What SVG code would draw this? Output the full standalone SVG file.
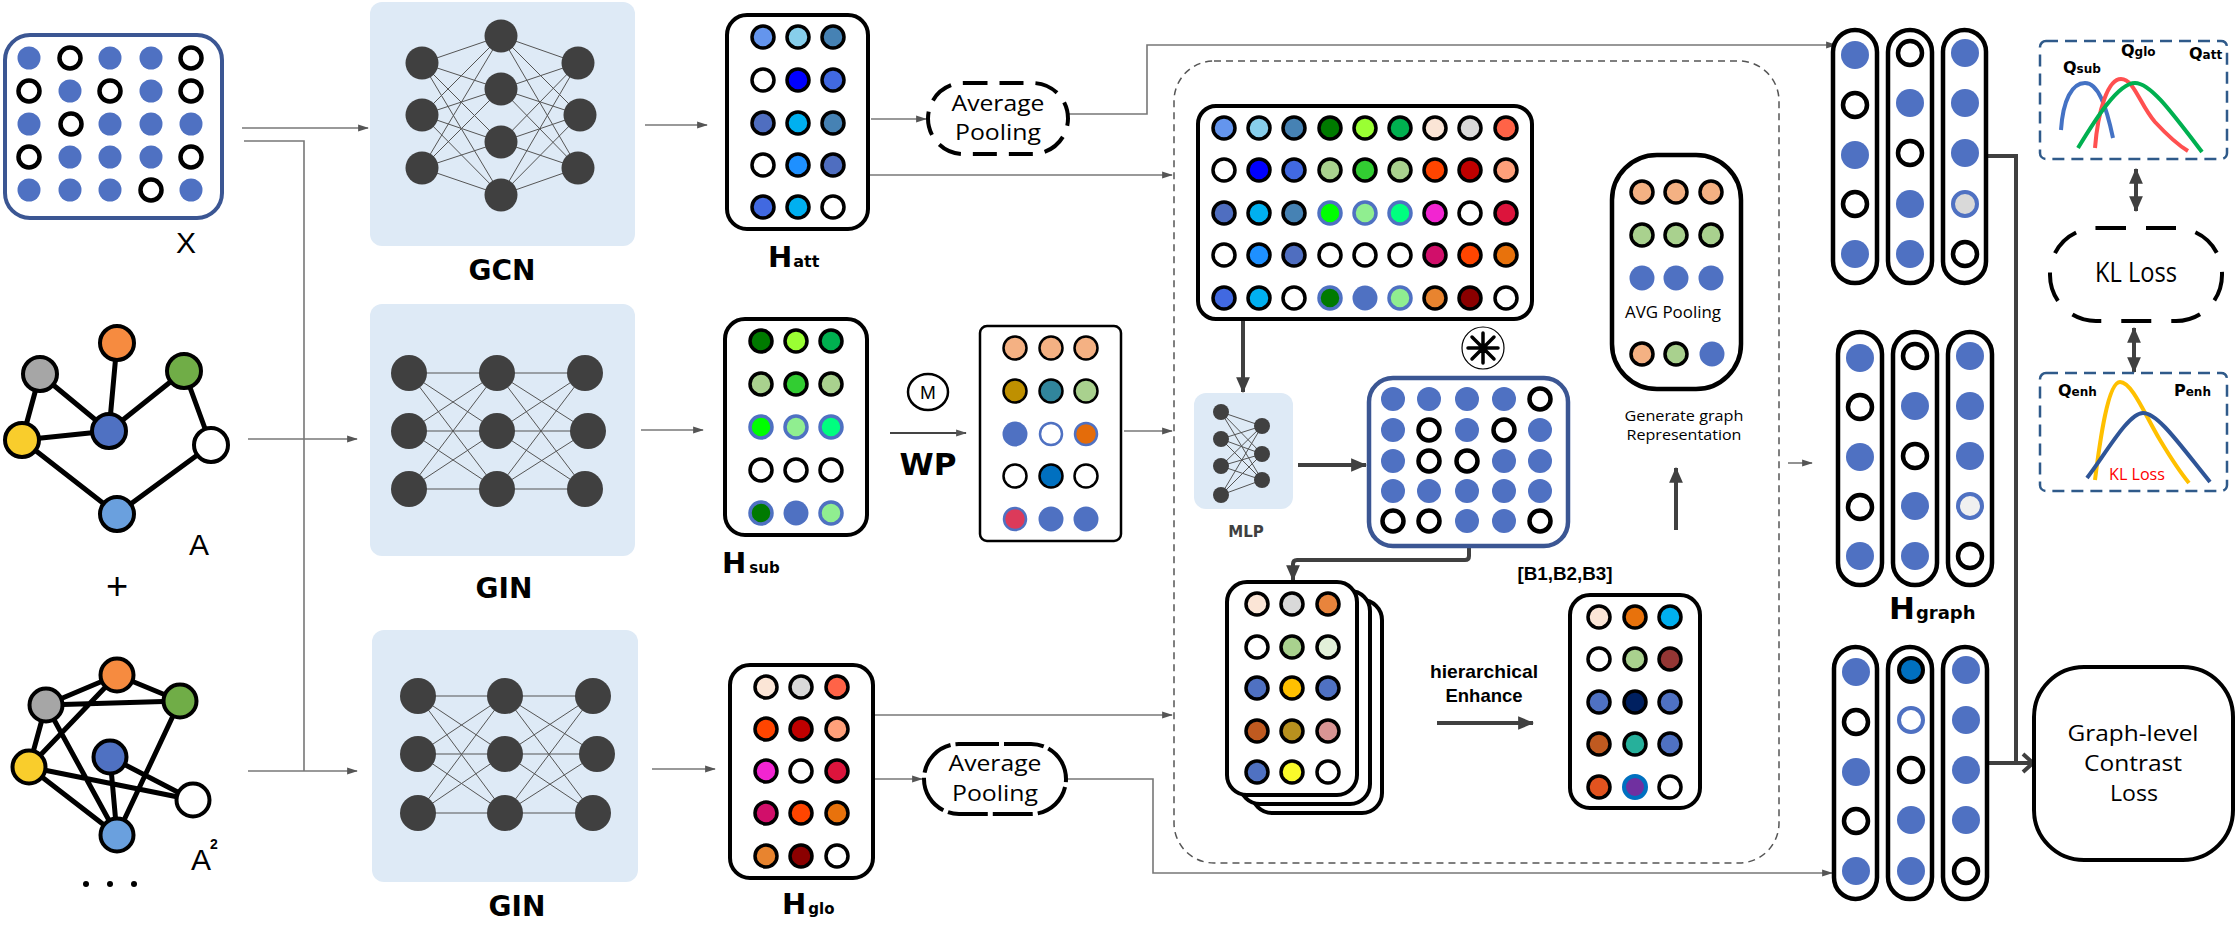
<svg xmlns="http://www.w3.org/2000/svg" width="2235" height="946" viewBox="0 0 2235 946">
<defs>
<marker id="ah" viewBox="0 0 12 10" refX="11" refY="5" markerWidth="12" markerHeight="9" markerUnits="userSpaceOnUse" orient="auto"><path d="M0,1 L12,5 L0,9 z" fill="#555"/></marker>
<marker id="ahk" viewBox="0 0 14 14" refX="13" refY="7" markerWidth="16" markerHeight="16" markerUnits="userSpaceOnUse" orient="auto-start-reverse"><path d="M0,1 L14,7 L0,13 z" fill="#404040"/></marker>
<marker id="chev" viewBox="0 0 14 22" refX="12" refY="11" markerWidth="14" markerHeight="22" markerUnits="userSpaceOnUse" orient="auto"><path d="M2,2 L12,11 L2,20" fill="none" stroke="#404040" stroke-width="4"/></marker>
<style>
.bf{fill:#4F71C2}
.rg{fill:#fff;stroke:#000;stroke-width:4.5}
.k{stroke:#000;stroke-width:3.5}
.kb{stroke:#4F71C2;stroke-width:3.5}
.box{fill:#fff;stroke:#000;stroke-width:4}
.thin{fill:none;stroke:#777;stroke-width:1.6}
.thick{fill:none;stroke:#404040;stroke-width:4}
.nnbox{fill:#DEEAF6}
.nn{fill:#404040}
.nl{fill:none;stroke:#555;stroke-width:1}
.ge{stroke:#000;stroke-width:5}
.gn{stroke:#000;stroke-width:4}
.lbl{font-family:"DejaVu Sans",Verdana,sans-serif;font-weight:bold;fill:#000}
.t{font-family:"Open Sans","Noto Sans",sans-serif;fill:#000}
.ts{font-family:"Liberation Sans",Arial,sans-serif;fill:#000}
.cb{font-family:"Liberation Sans",Arial,sans-serif;font-weight:bold;fill:#000}
.pill{fill:#fff;stroke:#000;stroke-width:4.5}
</style>
</defs>

<!-- Connectors -->
<g id="connectors">
<path class="thin" d="M242 128H368" marker-end="url(#ah)"/>
<path class="thin" d="M244 141H304V771"/>
<path class="thin" d="M248 439H357" marker-end="url(#ah)"/>
<path class="thin" d="M248 771H357" marker-end="url(#ah)"/>
<path class="thin" d="M645 125H707" marker-end="url(#ah)"/>
<path class="thin" d="M641 430H703" marker-end="url(#ah)"/>
<path class="thin" d="M652 769H715" marker-end="url(#ah)"/>
<path class="thin" d="M871 119H926" marker-end="url(#ah)"/>
<path class="thin" d="M1068 114H1147V45H1836" marker-end="url(#ah)"/>
<path class="thin" d="M868 175H1172" marker-end="url(#ah)"/>
<path class="thin" d="M890 433H966" marker-end="url(#ah)" style="stroke:#444;stroke-width:2.2"/>
<path class="thin" d="M1124 431H1172" marker-end="url(#ah)"/>
<path class="thin" d="M873 715H1172" marker-end="url(#ah)"/>
<path class="thin" d="M874 779H922" marker-end="url(#ah)"/>
<path class="thin" d="M1066 779H1153V873H1832" marker-end="url(#ah)"/>
<path class="thin" d="M1788 463H1812" marker-end="url(#ah)"/>
<path class="thick" d="M1243 321V392" marker-end="url(#ahk)"/>
<path class="thick" d="M1298 465H1366" marker-end="url(#ahk)"/>
<path class="thick" d="M1469 548V556Q1469 560 1465 560H1297Q1293 560 1293 564V580" marker-end="url(#ahk)"/>
<path class="thick" d="M1437 723H1533" marker-end="url(#ahk)"/>
<path class="thick" d="M1676 530V468" marker-end="url(#ahk)"/>
<path class="thick" d="M1986 156H2016V763"/>
<path class="thick" d="M1989 763H2033" marker-end="url(#chev)"/>
<path class="thick" d="M2136 169V211" marker-start="url(#ahk)" marker-end="url(#ahk)"/>
<path class="thick" d="M2134 328V372" marker-start="url(#ahk)" marker-end="url(#ahk)"/>
</g>

<!-- X matrix -->
<g id="x-matrix">
<rect x="5" y="35" width="217" height="183" rx="25" fill="#fff" stroke="#3B5693" stroke-width="4"/>
<circle class="bf" cx="29" cy="58" r="11.5"/><circle class="rg" cx="70" cy="58" r="10.5"/><circle class="bf" cx="110" cy="58" r="11.5"/><circle class="bf" cx="151" cy="58" r="11.5"/><circle class="rg" cx="191" cy="58" r="10.5"/>
<circle class="rg" cx="29" cy="91" r="10.5"/><circle class="bf" cx="70" cy="91" r="11.5"/><circle class="rg" cx="110" cy="91" r="10.5"/><circle class="bf" cx="151" cy="91" r="11.5"/><circle class="rg" cx="191" cy="91" r="10.5"/>
<circle class="bf" cx="29" cy="124" r="11.5"/><circle class="rg" cx="71" cy="124" r="10.5"/><circle class="bf" cx="110" cy="124" r="11.5"/><circle class="bf" cx="151" cy="124" r="11.5"/><circle class="bf" cx="191" cy="124" r="11.5"/>
<circle class="rg" cx="29" cy="157" r="10.5"/><circle class="bf" cx="70" cy="157" r="11.5"/><circle class="bf" cx="110" cy="157" r="11.5"/><circle class="bf" cx="151" cy="157" r="11.5"/><circle class="rg" cx="191" cy="157" r="10.5"/>
<circle class="bf" cx="29" cy="190" r="11.5"/><circle class="bf" cx="70" cy="190" r="11.5"/><circle class="bf" cx="110" cy="190" r="11.5"/><circle class="rg" cx="151" cy="190" r="10.5"/><circle class="bf" cx="191" cy="190" r="11.5"/>
<text class="ts" x="186" y="253" font-size="30" text-anchor="middle">X</text>
</g>

<!-- Graph A -->
<g id="graph-a">
<path class="ge" d="M40 374L22 440M40 374L109 431M117 343L109 431M184 371L109 431M184 371L211 445M22 440L109 431M22 440L117 514M211 445L117 514"/>
<circle class="gn" cx="40" cy="374" r="17" fill="#A6A6A6"/>
<circle class="gn" cx="117" cy="343" r="17" fill="#F68B40"/>
<circle class="gn" cx="184" cy="371" r="17" fill="#70AD47"/>
<circle class="gn" cx="22" cy="440" r="17" fill="#F9CD2C"/>
<circle class="gn" cx="109" cy="431" r="17" fill="#4F71C2"/>
<circle class="gn" cx="211" cy="445" r="17" fill="#fff"/>
<circle class="gn" cx="117" cy="514" r="17" fill="#6AA0DE"/>
<text class="ts" x="199" y="555" font-size="30" text-anchor="middle">A</text>
<text class="ts" x="117" y="599" font-size="38" text-anchor="middle">+</text>
</g>

<!-- Graph A2 -->
<g id="graph-a2">
<path class="ge" d="M46 705L117 675M117 675L180 701M46 705L180 701M117 675L29 767M46 705L29 767M46 705L117 835M29 767L193 800M29 767L117 835M110 757L117 835M110 757L193 800M180 701L117 835"/>
<circle class="gn" cx="117" cy="675" r="16.5" fill="#F68B40"/>
<circle class="gn" cx="46" cy="705" r="16.5" fill="#A6A6A6"/>
<circle class="gn" cx="180" cy="701" r="16.5" fill="#70AD47"/>
<circle class="gn" cx="110" cy="757" r="16.5" fill="#4F71C2"/>
<circle class="gn" cx="29" cy="767" r="16.5" fill="#F9CD2C"/>
<circle class="gn" cx="193" cy="800" r="16.5" fill="#fff"/>
<circle class="gn" cx="117" cy="835" r="16.5" fill="#6AA0DE"/>
<text class="ts" x="201" y="870" font-size="30" text-anchor="middle">A</text>
<text class="cb" x="214" y="849" font-size="14" text-anchor="middle">2</text>
<circle cx="86" cy="884" r="3" fill="#000"/><circle cx="110" cy="884" r="3" fill="#000"/><circle cx="134" cy="884" r="3" fill="#000"/>
</g>

<!-- GCN -->
<g id="gcn">
<rect class="nnbox" x="370" y="2" width="265" height="244" rx="12"/>
<path class="nl" d="M422 63L501 36M422 63L501 89M422 63L501 142M422 63L501 195M422 115L501 36M422 115L501 89M422 115L501 142M422 115L501 195M422 168L501 36M422 168L501 89M422 168L501 142M422 168L501 195M501 36L578 63M501 36L580 115M501 36L578 168M501 89L578 63M501 89L580 115M501 89L578 168M501 142L578 63M501 142L580 115M501 142L578 168M501 195L578 63M501 195L580 115M501 195L578 168"/>
<circle class="nn" cx="422" cy="63" r="16.5"/><circle class="nn" cx="422" cy="115" r="16.5"/><circle class="nn" cx="422" cy="168" r="16.5"/>
<circle class="nn" cx="501" cy="36" r="16.5"/><circle class="nn" cx="501" cy="89" r="16.5"/><circle class="nn" cx="501" cy="142" r="16.5"/><circle class="nn" cx="501" cy="195" r="16.5"/>
<circle class="nn" cx="578" cy="63" r="16.5"/><circle class="nn" cx="580" cy="115" r="16.5"/><circle class="nn" cx="578" cy="168" r="16.5"/>
<text class="lbl" x="502" y="280" font-size="28" text-anchor="middle">GCN</text>
</g>

<!-- GIN middle -->
<g id="gin-1">
<rect class="nnbox" x="370" y="304" width="265" height="252" rx="12"/>
<path class="nl" d="M409 373L497 373M409 373L497 431M409 373L497 489M409 431L497 373M409 431L497 431M409 431L497 489M409 489L497 373M409 489L497 431M409 489L497 489M497 373L585 373M497 373L588 431M497 373L585 489M497 431L585 373M497 431L588 431M497 431L585 489M497 489L585 373M497 489L588 431M497 489L585 489"/>
<circle class="nn" cx="409" cy="373" r="18"/><circle class="nn" cx="409" cy="431" r="18"/><circle class="nn" cx="409" cy="489" r="18"/>
<circle class="nn" cx="497" cy="373" r="18"/><circle class="nn" cx="497" cy="431" r="18"/><circle class="nn" cx="497" cy="489" r="18"/>
<circle class="nn" cx="585" cy="373" r="18"/><circle class="nn" cx="588" cy="431" r="18"/><circle class="nn" cx="585" cy="489" r="18"/>
<text class="lbl" x="504" y="598" font-size="28" text-anchor="middle">GIN</text>
</g>

<!-- GIN bottom -->
<g id="gin-2">
<rect class="nnbox" x="372" y="630" width="266" height="252" rx="12"/>
<path class="nl" d="M418 696L505 696M418 696L505 754M418 696L505 813M418 754L505 696M418 754L505 754M418 754L505 813M418 813L505 696M418 813L505 754M418 813L505 813M505 696L593 696M505 696L597 754M505 696L593 813M505 754L593 696M505 754L597 754M505 754L593 813M505 813L593 696M505 813L597 754M505 813L593 813"/>
<circle class="nn" cx="418" cy="696" r="18"/><circle class="nn" cx="418" cy="754" r="18"/><circle class="nn" cx="418" cy="813" r="18"/>
<circle class="nn" cx="505" cy="696" r="18"/><circle class="nn" cx="505" cy="754" r="18"/><circle class="nn" cx="505" cy="813" r="18"/>
<circle class="nn" cx="593" cy="696" r="18"/><circle class="nn" cx="597" cy="754" r="18"/><circle class="nn" cx="593" cy="813" r="18"/>
<text class="lbl" x="517" y="916" font-size="28" text-anchor="middle">GIN</text>
</g>

<!-- Hatt -->
<g id="h-att">
<rect class="box" x="727" y="15" width="141" height="214" rx="20"/>
<circle class="k" cx="763" cy="37" r="11" fill="#6495ED"/><circle class="k" cx="798" cy="37" r="11" fill="#87CEEB"/><circle class="k" cx="833" cy="37" r="11" fill="#4682B4"/>
<circle class="k" cx="763" cy="80" r="11" fill="#fff"/><circle class="k" cx="798" cy="80" r="11" fill="#0000FF"/><circle class="k" cx="833" cy="80" r="11" fill="#4169E1"/>
<circle class="k" cx="763" cy="123" r="11" fill="#4F6EC0"/><circle class="k" cx="798" cy="123" r="11" fill="#00B0F0"/><circle class="k" cx="833" cy="123" r="11" fill="#4682B4"/>
<circle class="k" cx="763" cy="165" r="11" fill="#fff"/><circle class="k" cx="798" cy="165" r="11" fill="#1E90FF"/><circle class="k" cx="833" cy="165" r="11" fill="#4F6EC0"/>
<circle class="k" cx="763" cy="207" r="11" fill="#4169E1"/><circle class="k" cx="798" cy="207" r="11" fill="#00B0F0"/><circle class="k" cx="833" cy="207" r="11" fill="#fff"/>
<text class="lbl" x="768" y="267" font-size="29">H<tspan font-size="16" dx="1">att</tspan></text>
</g>

<!-- Hsub -->
<g id="h-sub">
<rect class="box" x="725" y="319" width="142" height="216" rx="20"/>
<circle class="k" cx="761" cy="341" r="11" fill="#007A00"/><circle class="k" cx="796" cy="341" r="11" fill="#9AFF33"/><circle class="k" cx="831" cy="341" r="11" fill="#00B050"/>
<circle class="k" cx="761" cy="384" r="11" fill="#A9D18E"/><circle class="k" cx="796" cy="384" r="11" fill="#32CD32"/><circle class="k" cx="831" cy="384" r="11" fill="#A9D18E"/>
<circle class="kb" cx="761" cy="427" r="11" fill="#00FF00"/><circle class="kb" cx="796" cy="427" r="11" fill="#90EE90"/><circle class="kb" cx="831" cy="427" r="11" fill="#00FF7F"/>
<circle class="k" cx="761" cy="470" r="11" fill="#fff"/><circle class="k" cx="796" cy="470" r="11" fill="#fff"/><circle class="k" cx="831" cy="470" r="11" fill="#fff"/>
<circle class="kb" cx="761" cy="513" r="11" fill="#007A00"/><circle class="bf" cx="796" cy="513" r="12.5"/><circle class="kb" cx="831" cy="513" r="11" fill="#90EE90"/>
<text class="lbl" x="722" y="573" font-size="29">H<tspan font-size="15" dx="3">sub</tspan></text>
</g>

<!-- WP operator -->
<g id="wp">
<ellipse cx="928" cy="392" rx="20" ry="18" fill="#fff" stroke="#000" stroke-width="2.5"/>
<text class="ts" x="928" y="399" font-size="19" text-anchor="middle">M</text>
<text class="lbl" x="928" y="475" font-size="31" text-anchor="middle">WP</text>
</g>

<!-- WP matrix -->
<g id="wp-matrix">
<rect x="980" y="326" width="141" height="215" rx="7" fill="#fff" stroke="#000" stroke-width="2.5"/>
<g stroke="#000" stroke-width="2.5">
<circle cx="1015" cy="348" r="11.5" fill="#F4B183"/><circle cx="1051" cy="348" r="11.5" fill="#F4B183"/><circle cx="1086" cy="348" r="11.5" fill="#F4B183"/>
<circle cx="1015" cy="391" r="11.5" fill="#BF9000"/><circle cx="1051" cy="391" r="11.5" fill="#31859C"/><circle cx="1086" cy="391" r="11.5" fill="#A9D18E"/>
<circle cx="1015" cy="476" r="11.5" fill="#fff"/><circle cx="1051" cy="476" r="11.5" fill="#0070C0"/><circle cx="1086" cy="476" r="11.5" fill="#fff"/>
</g>
<circle class="bf" cx="1015" cy="434" r="12.5"/>
<circle cx="1051" cy="434" r="11" fill="#fff" stroke="#4F71C2" stroke-width="2.5"/>
<circle cx="1086" cy="434" r="11" fill="#E46C0A" stroke="#4F71C2" stroke-width="2.5"/>
<circle cx="1015" cy="519" r="11" fill="#DC3A5A" stroke="#4F71C2" stroke-width="2.5"/>
<circle class="bf" cx="1051" cy="519" r="12.5"/><circle class="bf" cx="1086" cy="519" r="12.5"/>
</g>

<!-- Hglo -->
<g id="h-glo">
<rect class="box" x="730" y="665" width="143" height="213" rx="20"/>
<circle class="k" cx="766" cy="687" r="11" fill="#FBE5D6"/><circle class="k" cx="801" cy="687" r="11" fill="#D9D9D9"/><circle class="k" cx="837" cy="687" r="11" fill="#FF6347"/>
<circle class="k" cx="766" cy="729" r="11" fill="#FF4500"/><circle class="k" cx="801" cy="729" r="11" fill="#C00000"/><circle class="k" cx="837" cy="729" r="11" fill="#FFA07A"/>
<circle class="k" cx="766" cy="771" r="11" fill="#F225D1"/><circle class="k" cx="801" cy="771" r="11" fill="#fff"/><circle class="k" cx="837" cy="771" r="11" fill="#DC143C"/>
<circle class="k" cx="766" cy="813" r="11" fill="#D10F6A"/><circle class="k" cx="801" cy="813" r="11" fill="#FF4500"/><circle class="k" cx="837" cy="813" r="11" fill="#E8720C"/>
<circle class="k" cx="766" cy="856" r="11" fill="#E8842F"/><circle class="k" cx="801" cy="856" r="11" fill="#8B0000"/><circle class="k" cx="837" cy="856" r="11" fill="#fff"/>
<text class="lbl" x="782" y="914" font-size="29">H<tspan font-size="15" dx="2">glo</tspan></text>
</g>

<!-- Average pooling nodes -->
<g id="avg-pool-top">
<rect x="928" y="83" width="140" height="71" rx="35.5" fill="#fff" stroke="#000" stroke-width="4" stroke-dasharray="24 12"/>
<text class="t" x="998" y="111" font-size="22" text-anchor="middle" textLength="93" lengthAdjust="spacingAndGlyphs">Average</text>
<text class="t" x="998" y="140" font-size="22" text-anchor="middle" textLength="86" lengthAdjust="spacingAndGlyphs">Pooling</text>
</g>
<g id="avg-pool-bottom">
<rect x="924" y="744" width="142" height="70" rx="35" fill="#fff" stroke="#000" stroke-width="4" stroke-dasharray="40 5"/>
<text class="t" x="995" y="771" font-size="22" text-anchor="middle" textLength="93" lengthAdjust="spacingAndGlyphs">Average</text>
<text class="t" x="995" y="801" font-size="22" text-anchor="middle" textLength="86" lengthAdjust="spacingAndGlyphs">Pooling</text>
</g>

<!-- Dashed module -->
<g id="module-frame">
<rect x="1174" y="61" width="605" height="802" rx="40" fill="none" stroke="#555" stroke-width="1.5" stroke-dasharray="7 5"/>
</g>

<!-- Big matrix -->
<g id="concat-matrix">
<rect class="box" x="1198" y="106" width="334" height="213" rx="18"/>
<g class="k">
<circle cx="1224" cy="128" r="11" fill="#6495ED"/><circle cx="1259" cy="128" r="11" fill="#87CEEB"/><circle cx="1294" cy="128" r="11" fill="#4682B4"/><circle cx="1330" cy="128" r="11" fill="#007A00"/><circle cx="1365" cy="128" r="11" fill="#9AFF33"/><circle cx="1400" cy="128" r="11" fill="#00B050"/><circle cx="1435" cy="128" r="11" fill="#FBE5D6"/><circle cx="1470" cy="128" r="11" fill="#D9D9D9"/><circle cx="1506" cy="128" r="11" fill="#FF6347"/>
<circle cx="1224" cy="170" r="11" fill="#fff"/><circle cx="1259" cy="170" r="11" fill="#0000FF"/><circle cx="1294" cy="170" r="11" fill="#4169E1"/><circle cx="1330" cy="170" r="11" fill="#A9D18E"/><circle cx="1365" cy="170" r="11" fill="#32CD32"/><circle cx="1400" cy="170" r="11" fill="#A9D18E"/><circle cx="1435" cy="170" r="11" fill="#FF4500"/><circle cx="1470" cy="170" r="11" fill="#C00000"/><circle cx="1506" cy="170" r="11" fill="#FFA07A"/>
<circle cx="1224" cy="213" r="11" fill="#4F6EC0"/><circle cx="1259" cy="213" r="11" fill="#00B0F0"/><circle cx="1294" cy="213" r="11" fill="#4682B4"/><circle cx="1435" cy="213" r="11" fill="#F225D1"/><circle cx="1470" cy="213" r="11" fill="#fff"/><circle cx="1506" cy="213" r="11" fill="#DC143C"/>
<circle cx="1224" cy="255" r="11" fill="#fff"/><circle cx="1259" cy="255" r="11" fill="#1E90FF"/><circle cx="1294" cy="255" r="11" fill="#4F6EC0"/><circle cx="1330" cy="255" r="11" fill="#fff"/><circle cx="1365" cy="255" r="11" fill="#fff"/><circle cx="1400" cy="255" r="11" fill="#fff"/><circle cx="1435" cy="255" r="11" fill="#D10F6A"/><circle cx="1470" cy="255" r="11" fill="#FF4500"/><circle cx="1506" cy="255" r="11" fill="#E8720C"/>
<circle cx="1224" cy="298" r="11" fill="#4169E1"/><circle cx="1259" cy="298" r="11" fill="#00B0F0"/><circle cx="1294" cy="298" r="11" fill="#fff"/><circle cx="1435" cy="298" r="11" fill="#E8842F"/><circle cx="1470" cy="298" r="11" fill="#8B0000"/><circle cx="1506" cy="298" r="11" fill="#fff"/>
</g>
<g class="kb">
<circle cx="1330" cy="213" r="11" fill="#00FF00"/><circle cx="1365" cy="213" r="11" fill="#90EE90"/><circle cx="1400" cy="213" r="11" fill="#00FF7F"/>
<circle cx="1330" cy="298" r="11" fill="#007A00"/><circle cx="1400" cy="298" r="11" fill="#90EE90"/>
</g>
<circle class="bf" cx="1365" cy="298" r="12.5"/>
</g>

<!-- MLP -->
<g id="mlp">
<rect class="nnbox" x="1194" y="393" width="99" height="116" rx="12"/>
<path class="nl" d="M1221 412L1262 426M1221 412L1262 454M1221 412L1262 480M1221 439L1262 426M1221 439L1262 454M1221 439L1262 480M1221 466L1262 426M1221 466L1262 454M1221 466L1262 480M1221 495L1262 426M1221 495L1262 454M1221 495L1262 480"/>
<circle class="nn" cx="1221" cy="412" r="8"/><circle class="nn" cx="1221" cy="439" r="8"/><circle class="nn" cx="1221" cy="466" r="8"/><circle class="nn" cx="1221" cy="495" r="8"/>
<circle class="nn" cx="1262" cy="426" r="8"/><circle class="nn" cx="1262" cy="454" r="8"/><circle class="nn" cx="1262" cy="480" r="8"/>
<text class="lbl" x="1246" y="537" font-size="15" text-anchor="middle" style="fill:#404040">MLP</text>
</g>

<!-- Convolution symbol -->
<g id="conv-op">
<circle cx="1483" cy="348" r="21" fill="#fff" stroke="#000" stroke-width="1.2"/>
<g stroke="#000" stroke-width="3.5" stroke-linecap="round">
<path d="M1483 348V333M1483 348V363M1483 348H1468M1483 348H1498M1483 348L1472 337M1483 348L1494 359M1483 348L1494 337M1483 348L1472 359"/>
</g>
</g>

<!-- Blue matrix -->
<g id="masked-matrix">
<rect x="1369" y="378" width="199" height="168" rx="24" fill="#fff" stroke="#3B5693" stroke-width="4.5"/>
<circle class="bf" cx="1393" cy="399" r="12"/><circle class="bf" cx="1429" cy="399" r="12"/><circle class="bf" cx="1467" cy="399" r="12"/><circle class="bf" cx="1504" cy="399" r="12"/><circle class="rg" cx="1540" cy="399" r="10.5"/>
<circle class="bf" cx="1393" cy="430" r="12"/><circle class="rg" cx="1429" cy="430" r="10.5"/><circle class="bf" cx="1467" cy="430" r="12"/><circle class="rg" cx="1504" cy="430" r="10.5"/><circle class="bf" cx="1540" cy="430" r="12"/>
<circle class="bf" cx="1393" cy="461" r="12"/><circle class="rg" cx="1429" cy="461" r="10.5"/><circle class="rg" cx="1467" cy="461" r="10.5"/><circle class="bf" cx="1504" cy="461" r="12"/><circle class="bf" cx="1540" cy="461" r="12"/>
<circle class="bf" cx="1393" cy="491" r="12"/><circle class="bf" cx="1429" cy="491" r="12"/><circle class="bf" cx="1467" cy="491" r="12"/><circle class="bf" cx="1504" cy="491" r="12"/><circle class="bf" cx="1540" cy="491" r="12"/>
<circle class="rg" cx="1393" cy="521" r="10.5"/><circle class="rg" cx="1429" cy="521" r="10.5"/><circle class="bf" cx="1467" cy="521" r="12"/><circle class="bf" cx="1504" cy="521" r="12"/><circle class="rg" cx="1540" cy="521" r="10.5"/>
</g>

<!-- Stacked matrices -->
<g id="stacked-matrices">
<rect class="box" x="1252" y="600" width="130" height="213" rx="20"/>
<rect class="box" x="1240" y="591" width="130" height="213" rx="20"/>
<rect class="box" x="1227" y="582" width="130" height="213" rx="20"/>
<g class="k">
<circle cx="1257" cy="604" r="11" fill="#FBE5D6"/><circle cx="1292" cy="604" r="11" fill="#D9D9D9"/><circle cx="1328" cy="604" r="11" fill="#E8843C"/>
<circle cx="1257" cy="647" r="11" fill="#fff"/><circle cx="1292" cy="647" r="11" fill="#A9D18E"/><circle cx="1328" cy="647" r="11" fill="#E2F0D9"/>
<circle cx="1257" cy="688" r="11" fill="#4F71C2"/><circle cx="1292" cy="688" r="11" fill="#FFC000"/><circle cx="1328" cy="688" r="11" fill="#4F71C2"/>
<circle cx="1257" cy="731" r="11" fill="#C05A20"/><circle cx="1292" cy="731" r="11" fill="#B8901E"/><circle cx="1328" cy="731" r="11" fill="#D99594"/>
<circle cx="1257" cy="772" r="11" fill="#4F71C2"/><circle cx="1292" cy="772" r="11" fill="#FAFA2A"/><circle cx="1328" cy="772" r="11" fill="#fff"/>
</g>
</g>

<!-- Hierarchical enhance label -->
<g id="enhance-label">
<text class="cb" x="1484" y="678" font-size="19" text-anchor="middle" textLength="108" lengthAdjust="spacingAndGlyphs">hierarchical</text>
<text class="cb" x="1484" y="702" font-size="19" text-anchor="middle" textLength="77" lengthAdjust="spacingAndGlyphs">Enhance</text>
<text class="cb" x="1565" y="580" font-size="19" text-anchor="middle" textLength="95" lengthAdjust="spacingAndGlyphs">[B1,B2,B3]</text>
</g>

<!-- Result matrix -->
<g id="enhanced-matrix">
<rect class="box" x="1570" y="595" width="130" height="213" rx="20"/>
<g class="k">
<circle cx="1599" cy="617" r="11" fill="#FBE5D6"/><circle cx="1635" cy="617" r="11" fill="#E8720C"/><circle cx="1670" cy="617" r="11" fill="#00B0F0"/>
<circle cx="1599" cy="659" r="11" fill="#fff"/><circle cx="1635" cy="659" r="11" fill="#A9D18E"/><circle cx="1670" cy="659" r="11" fill="#943634"/>
<circle cx="1599" cy="702" r="11" fill="#4F71C2"/><circle cx="1635" cy="702" r="11" fill="#002060"/><circle cx="1670" cy="702" r="11" fill="#4F71C2"/>
<circle cx="1599" cy="744" r="11" fill="#C05A20"/><circle cx="1635" cy="744" r="11" fill="#26B09B"/><circle cx="1670" cy="744" r="11" fill="#4F71C2"/>
<circle cx="1599" cy="787" r="11" fill="#E2531F"/><circle cx="1670" cy="787" r="11" fill="#fff"/>
</g>
<circle cx="1635" cy="787" r="11" fill="#7030A0" stroke="#0070C0" stroke-width="4"/>
</g>

<!-- AVG pooling box -->
<g id="avg-pool-graph">
<rect x="1612" y="155" width="129" height="234" rx="45" fill="#fff" stroke="#000" stroke-width="4.5"/>
<g class="k">
<circle cx="1642" cy="192" r="11" fill="#F4B183"/><circle cx="1676" cy="192" r="11" fill="#F4B183"/><circle cx="1711" cy="192" r="11" fill="#F4B183"/>
<circle cx="1642" cy="235" r="11" fill="#A9D18E"/><circle cx="1676" cy="235" r="11" fill="#A9D18E"/><circle cx="1711" cy="235" r="11" fill="#A9D18E"/>
<circle cx="1642" cy="354" r="11" fill="#F4B183"/><circle cx="1676" cy="354" r="11" fill="#A9D18E"/>
</g>
<circle class="bf" cx="1642" cy="278" r="12.5"/><circle class="bf" cx="1676" cy="278" r="12.5"/><circle class="bf" cx="1711" cy="278" r="12.5"/>
<circle class="bf" cx="1712" cy="354" r="12.5"/>
<text class="t" x="1673" y="318" font-size="17" text-anchor="middle" textLength="96" lengthAdjust="spacingAndGlyphs">AVG Pooling</text>
</g>
<g id="generate-label">
<text class="t" x="1684" y="421" font-size="15" text-anchor="middle" textLength="119" lengthAdjust="spacingAndGlyphs">Generate graph</text>
<text class="t" x="1684" y="440" font-size="15" text-anchor="middle" textLength="115" lengthAdjust="spacingAndGlyphs">Representation</text>
</g>

<!-- Hgraph top -->
<g id="hgraph-top">
<rect class="pill" x="1833" y="30" width="44" height="253" rx="22"/><rect class="pill" x="1888" y="30" width="44" height="253" rx="22"/><rect class="pill" x="1943" y="30" width="43" height="253" rx="21.5"/>
<circle class="bf" cx="1855" cy="55" r="14"/><circle class="rg" cx="1855" cy="105" r="12"/><circle class="bf" cx="1855" cy="155" r="14"/><circle class="rg" cx="1855" cy="204" r="12"/><circle class="bf" cx="1855" cy="254" r="14"/>
<circle class="rg" cx="1910" cy="53" r="12"/><circle class="bf" cx="1910" cy="103" r="14"/><circle class="rg" cx="1910" cy="153" r="12"/><circle class="bf" cx="1910" cy="204" r="14"/><circle class="bf" cx="1910" cy="254" r="14"/>
<circle class="bf" cx="1965" cy="53" r="14"/><circle class="bf" cx="1965" cy="103" r="14"/><circle class="bf" cx="1965" cy="153" r="14"/><circle cx="1965" cy="204" r="12" fill="#D9D9D9" stroke="#4F71C2" stroke-width="4"/><circle class="rg" cx="1965" cy="254" r="12"/>
</g>

<!-- Hgraph middle -->
<g id="hgraph-mid">
<rect class="pill" x="1838" y="332" width="44" height="253" rx="22"/><rect class="pill" x="1893" y="332" width="44" height="253" rx="22"/><rect class="pill" x="1948" y="332" width="44" height="253" rx="22"/>
<circle class="bf" cx="1860" cy="358" r="14"/><circle class="rg" cx="1860" cy="407" r="12"/><circle class="bf" cx="1860" cy="457" r="14"/><circle class="rg" cx="1860" cy="507" r="12"/><circle class="bf" cx="1860" cy="556" r="14"/>
<circle class="rg" cx="1915" cy="356" r="12"/><circle class="bf" cx="1915" cy="406" r="14"/><circle class="rg" cx="1915" cy="456" r="12"/><circle class="bf" cx="1915" cy="506" r="14"/><circle class="bf" cx="1915" cy="556" r="14"/>
<circle class="bf" cx="1970" cy="356" r="14"/><circle class="bf" cx="1970" cy="406" r="14"/><circle class="bf" cx="1970" cy="456" r="14"/><circle cx="1970" cy="506" r="12" fill="#F0F0F0" stroke="#4F71C2" stroke-width="4"/><circle class="rg" cx="1970" cy="556" r="12"/>
<text class="lbl" x="1889" y="619" font-size="31">H<tspan font-size="18" dx="1">graph</tspan></text>
</g>

<!-- Hgraph bottom -->
<g id="hgraph-bottom">
<rect class="pill" x="1834" y="647" width="43" height="252" rx="21.5"/><rect class="pill" x="1888" y="647" width="44" height="252" rx="22"/><rect class="pill" x="1943" y="647" width="44" height="252" rx="22"/>
<circle class="bf" cx="1856" cy="672" r="14"/><circle class="rg" cx="1856" cy="722" r="12"/><circle class="bf" cx="1856" cy="772" r="14"/><circle class="rg" cx="1856" cy="821" r="12"/><circle class="bf" cx="1856" cy="871" r="14"/>
<circle cx="1911" cy="670" r="12" fill="#0070C0" stroke="#000" stroke-width="4"/><circle cx="1911" cy="720" r="12" fill="#fff" stroke="#4F71C2" stroke-width="4"/><circle class="rg" cx="1911" cy="770" r="12"/><circle class="bf" cx="1911" cy="820" r="14"/><circle class="bf" cx="1911" cy="871" r="14"/>
<circle class="bf" cx="1966" cy="670" r="14"/><circle class="bf" cx="1966" cy="720" r="14"/><circle class="bf" cx="1966" cy="770" r="14"/><circle class="bf" cx="1966" cy="820" r="14"/><circle class="rg" cx="1966" cy="871" r="12"/>
</g>

<!-- Q distributions -->
<g id="q-dist">
<rect x="2040" y="41" width="187" height="118" rx="6" fill="none" stroke="#2F5A8A" stroke-width="2.5" stroke-dasharray="12 7"/>
<path d="M2061 130C2063 100 2072 83 2085 83C2098 83 2106 105 2113 138" fill="none" stroke="#4472C4" stroke-width="4"/>
<path d="M2095 148C2098 110 2108 79 2121 79C2134 79 2140 105 2155 122C2168 136 2178 145 2188 151" fill="none" stroke="#FF5050" stroke-width="4"/>
<path d="M2078 148C2095 120 2118 83 2135 83C2150 83 2170 110 2202 152" fill="none" stroke="#00B050" stroke-width="4"/>
<text class="lbl" x="2063" y="73" font-size="16">Q<tspan font-size="12">sub</tspan></text>
<text class="lbl" x="2121" y="56" font-size="16">Q<tspan font-size="12">glo</tspan></text>
<text class="lbl" x="2189" y="59" font-size="16">Q<tspan font-size="12">att</tspan></text>
</g>

<!-- KL Loss -->
<g id="kl-loss">
<rect x="2050" y="228" width="172" height="93" rx="46" fill="#fff" stroke="#000" stroke-width="4" stroke-dasharray="30 20"/>
<text class="t" x="2136" y="282" font-size="27" text-anchor="middle" textLength="82" lengthAdjust="spacingAndGlyphs">KL Loss</text>
</g>

<!-- P/Q enhanced distributions -->
<g id="p-dist">
<rect x="2040" y="373" width="187" height="118" rx="6" fill="none" stroke="#2F5A8A" stroke-width="2.5" stroke-dasharray="12 7"/>
<path d="M2095 480C2100 440 2108 382 2120 382C2132 382 2145 415 2160 440C2172 460 2180 472 2189 483" fill="none" stroke="#FFC000" stroke-width="4"/>
<path d="M2087 478C2105 455 2128 413 2143 413C2158 413 2180 445 2210 482" fill="none" stroke="#2F5597" stroke-width="4"/>
<text class="lbl" x="2058" y="396" font-size="16">Q<tspan font-size="12">enh</tspan></text>
<text class="lbl" x="2174" y="396" font-size="16">P<tspan font-size="12">enh</tspan></text>
<text class="t" x="2137" y="480" font-size="17" text-anchor="middle" style="fill:#FF0000" textLength="56" lengthAdjust="spacingAndGlyphs">KL Loss</text>
</g>

<!-- Graph-level contrast loss -->
<g id="contrast-loss">
<rect class="box" x="2034" y="667" width="199" height="193" rx="50"/>
<text class="t" x="2133" y="741" font-size="22" text-anchor="middle" textLength="131" lengthAdjust="spacingAndGlyphs">Graph-level</text>
<text class="t" x="2133" y="771" font-size="22" text-anchor="middle" textLength="98" lengthAdjust="spacingAndGlyphs">Contrast</text>
<text class="t" x="2134" y="801" font-size="22" text-anchor="middle" textLength="48" lengthAdjust="spacingAndGlyphs">Loss</text>
</g>
</svg>
